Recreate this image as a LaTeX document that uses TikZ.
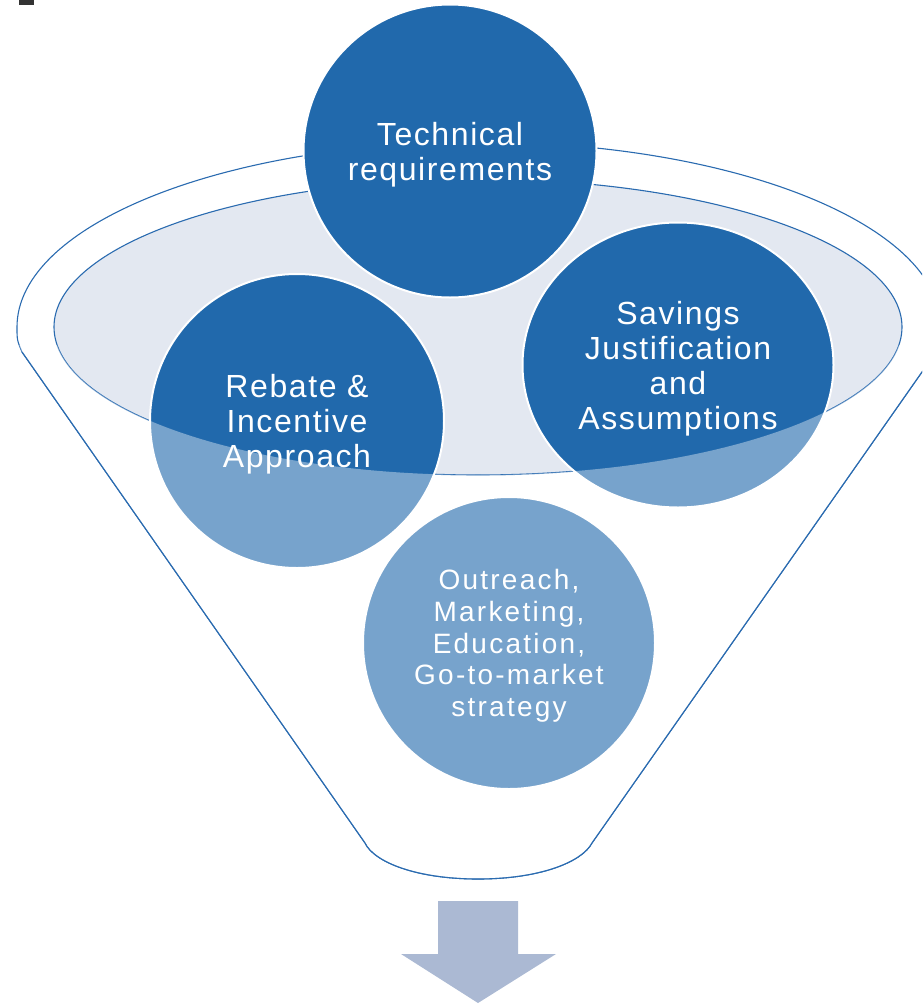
\documentclass[tikz,border=0pt]{standalone}
\usepackage{fontspec}
\setmainfont{Liberation Sans}
\newfontfamily\bubblefont[LetterSpace=5]{Liberation Sans}
\newfontfamily\smallbubblefont[LetterSpace=8]{Liberation Sans}
\usetikzlibrary{shapes.geometric}

\definecolor{bubbleblue}{HTML}{2169AC}
\definecolor{rimfill}{HTML}{E3E8F1}
\definecolor{rimline}{HTML}{2A6BB0}
\definecolor{arrowgray}{HTML}{ABB9D3}

\begin{document}
\begin{tikzpicture}[x=1pt,y=-1pt,
    bubble/.style={circle, fill=bubbleblue, draw=white, line width=2pt,
        text=white, align=center, inner sep=0pt, text depth=0pt,
        font=\bubblefont\fontsize{32}{35}\selectfont},
    rim/.style={draw=rimline, line width=1.1pt}]

    \useasboundingbox (0,0) rectangle (922,1004);
    \clip (0,0) rectangle (922,1004);

    % Outline of the funnel: rim on top, two sides and the rounded bottom
    \def\FunnelPath{(17,327) arc[start angle=180, end angle=0, x radius=462pt, y radius=185pt]
        .. controls (941,340) .. (936,352) -- (592,843)
        .. controls (582,862) and (540,879) .. (478,879)
        .. controls (416,879) and (374,862) .. (365,843)
        -- (22,352) .. controls (17,340) .. cycle}

    % Small dark mark in the top left corner
    \fill[black!80] (19,0) rectangle (34,5);

    % Fill the funnel white and draw its outline
    \filldraw[rim, fill=white] \FunnelPath;

    % The opening of the funnel
    \filldraw[rim, fill=rimfill] (478,327) ellipse[x radius=424pt, y radius=148pt];

    % The four bubbles
    \node[bubble, minimum size=293pt] (tech) at (450,151) {Technical\\requirements};
    \node[bubble, minimum size=294pt] (rebate) at (297,421) {Rebate \&\\Incentive\\Approach};
    \node[bubble, ellipse, minimum width=311pt, minimum height=285pt] (savings) at (678,365)
        {Savings\\Justification\\and\\Assumptions};
    \node[bubble, minimum size=292pt, font=\smallbubblefont\fontsize{28}{31.7}\selectfont]
        (outreach) at (509,643) {Outreach,\\Marketing,\\Education,\\Go-to-market\\strategy};

    % Lighten everything inside the funnel below the opening
    \begin{scope}
        \clip \FunnelPath;
        \clip (0,345) rectangle (922,1004);
        \fill[white, fill opacity=0.39, even odd rule] (0,300) rectangle (922,1004)
            (478,327) ellipse[x radius=424pt, y radius=148pt];
    \end{scope}

    % Draw the sides and the bottom again on top
    \draw[rim] (936,352) -- (592,843)
        .. controls (582,862) and (540,879) .. (478,879)
        .. controls (416,879) and (374,862) .. (365,843) -- (22,352);

    % Arrow below the funnel
    \fill[arrowgray] (438,901) -- (518,901) -- (518,954) -- (556,954) -- (478,1003)
        -- (401,954) -- (438,954) -- cycle;

\end{tikzpicture}
\end{document}
